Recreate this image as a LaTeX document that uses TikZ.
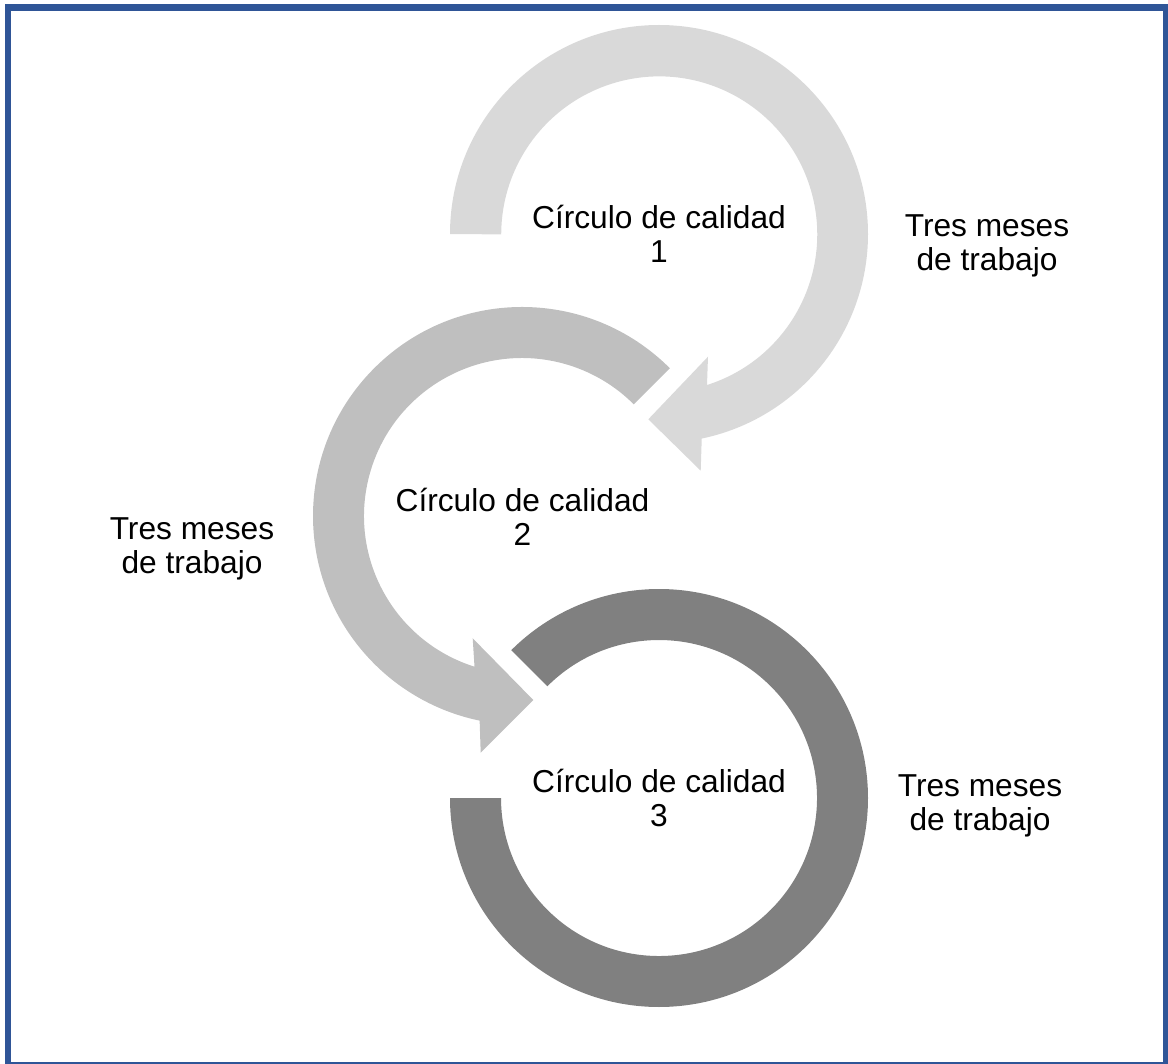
\documentclass[tikz,border=0pt]{standalone}
\usepackage{fontspec}
\setmainfont{Liberation Sans}
\definecolor{frameblue}{HTML}{2F5597}
\definecolor{lightloop}{HTML}{D9D9D9}
\definecolor{midloop}{HTML}{BFBFBF}
\definecolor{darkloop}{HTML}{808080}

\begin{document}
\begin{tikzpicture}[
    x=0.5pt, y=-0.5pt,
    circlelabel/.style={align=center, inner sep=0pt, font=\fontsize{15.85}{17}\selectfont},
    timelabel/.style={align=center, inner sep=0pt, font=\fontsize{15.85}{17}\selectfont}
]
\useasboundingbox (0,0) rectangle (1168,1064);

% Page frame
\draw[frameblue, line width=3.25pt] (8,7.5) rectangle (1166.5,1065);

% Circle centres
\coordinate (c1) at (659,234);
\coordinate (c2) at (522,516);
\coordinate (c3) at (659,798);

% Loop 1 (light gray, arrow head pointing left)
\fill[lightloop] (450,234) arc[start angle=180, end angle=438.2, radius=209]
    -- (700.7,470.7) -- (648.3,419.3) -- (708,356.7)
    -- (707,385) arc[start angle=432.4, end angle=180, radius=158] -- cycle;

% Loop 2 (mid gray, arrow head pointing right)
\fill[midloop] (669.8,368.2) arc[start angle=-45, end angle=-258.3, radius=209]
    -- (480.7,752.7) -- (533.3,700) -- (472.7,638.3)
    -- (474.5,666.7) arc[start angle=-252.5, end angle=-45, radius=158] -- cycle;

% Loop 3 (dark gray, no arrow head)
\fill[darkloop] (450,798) arc[start angle=180, end angle=-135, radius=209]
    -- (547.3,686.3) arc[start angle=-135, end angle=180, radius=158] -- cycle;

% Circle labels
\node[circlelabel] (circ1) at (c1) {Círculo de calidad\\1};
\node[circlelabel] (circ2) at (522.5,517) {Círculo de calidad\\2};
\node[circlelabel] (circ3) at (c3) {Círculo de calidad\\3};

% Time labels
\node[timelabel] (lapse1) at (987,246) {Tres meses\\de trabajo};
\node[timelabel] (lapse2) at (192,549) {Tres meses\\de trabajo};
\node[timelabel] (lapse3) at (980,806) {Tres meses\\de trabajo};

\end{tikzpicture}
\end{document}
